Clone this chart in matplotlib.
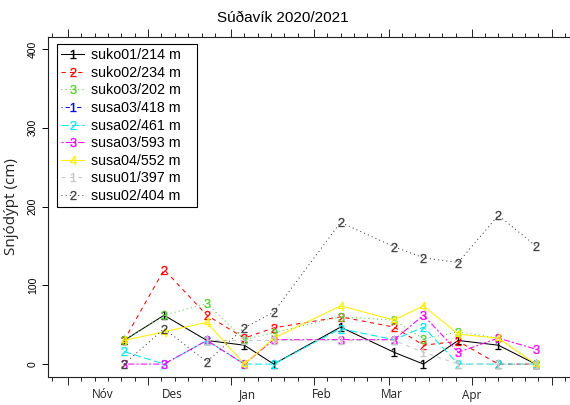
import datetime as dt
import numpy as np
import matplotlib
matplotlib.use("Agg")
import matplotlib.pyplot as plt
import matplotlib.dates as mdates

plt.rcParams['font.family'] = ['Liberation Sans', 'DejaVu Sans']
plt.rcParams['mathtext.fontset'] = 'custom'
plt.rcParams['mathtext.rm'] = 'Liberation Sans'
plt.rcParams['mathtext.default'] = 'regular'

nan = np.nan
dates = [dt.date(2020, 11, 22), dt.date(2020, 12, 7), dt.date(2020, 12, 23),
         dt.date(2021, 1, 6), dt.date(2021, 1, 17), dt.date(2021, 2, 11),
         dt.date(2021, 3, 3), dt.date(2021, 3, 14), dt.date(2021, 3, 27),
         dt.date(2021, 4, 11), dt.date(2021, 4, 25)]

suko01 = [30, 62, 30, 24, 0, 47, 15, 0, 30, 24, 0]
suko02 = [30, 120, 62, 33, 46, 60, 47, 24, 29, 0, 0]
suko03 = [30, 62, 77, 31, 40, 60, 56, 32, 41, 33, 0]
susa03_418 = [nan] * 11
susa02 = [16, 0, 30, 0, 0, 45, 31, 47, 0, 0, 0]
susa03_593 = [0, 0, 30, 0, 31, 31, 31, 62, 15, 33, 19]
susa04 = [30, 41, 53, 0, 33, 74, 56, 74, 38, 33, 0]
susu01 = [nan, nan, 30, 30, 30, 30, 30, 15, 0, 0, 0]
susu02 = [0, 45, 3, 46, 66, 180, 149, 135, 129, 189, 150]

labels = ["suko01/214 m", "suko02/234 m", "suko03/202 m", "susa03/418 m",
          "susa02/461 m", "susa03/593 m", "susa04/552 m", "susu01/397 m",
          "susu02/404 m"]
series = [suko01, suko02, suko03, susa03_418, susa02, susa03_593, susa04,
          susu01, susu02]
pchs = ["1", "2", "3", "1", "2", "3", "4", "1", "2"]
colors = ["#000000", "#ff0000", "#55cc33", "#0000ff", "#00e8f0", "#ff00ff",
          "#ffee00", "#c8c8c8", "#404040"]
ltys = ["-", (0, (4, 4)), (0, (1, 3)), (0, (1, 3, 4, 3)), (0, (7, 3)),
        (0, (2, 2, 6, 2)), "-", (0, (4, 4)), (0, (1, 3))]

month_labels = ["Nóv", "Des", "Jan", "Feb", "Mar", "Apr"]
month_label_pos = [dt.date(2020, 11, 14), dt.date(2020, 12, 10), dt.date(2021, 1, 7),
                   dt.date(2021, 2, 4), dt.date(2021, 3, 2), dt.date(2021, 4, 1)]

W, H = 570, 405
fig = plt.figure(figsize=(W / 100, H / 100), dpi=100)
ax = fig.add_axes([47.5 / W, 1 - 376.7 / H, (580 - 47.5) / W, (376.7 - 36.5) / H])

x = mdates.date2num(dates)
for y, lab, p, c, ls in zip(series, labels, pchs, colors, ltys):
    ax.plot(x, y, color=c, linestyle=ls, lw=0.75, marker="$" + p + "$",
            markersize=6.5, markeredgewidth=0.2, label=lab + "   ")

# ticks: month starts long, every 5 days short
major = []
minor = []
d = dt.date(2020, 10, 1)
while d <= dt.date(2021, 5, 31):
    if d.day == 1:
        major.append(mdates.date2num(d))
    elif d.day in (6, 11, 16, 21, 26):
        minor.append(mdates.date2num(d))
    d += dt.timedelta(days=1)
ax.set_xticks(major)
ax.set_xticks(minor, minor=True)
ax.tick_params(axis="x", which="both", top=True, bottom=True, direction="out",
               labelbottom=False, width=0.7, color="#222222")
ax.tick_params(axis="x", which="major", length=5.5)
ax.tick_params(axis="x", which="minor", length=3.2)

nov1 = mdates.date2num(dt.date(2020, 11, 1))
ax.set_xlim(nov1 - 7.6, nov1 - 7.6 + (580 - 47.5) / 2.674)

ax.set_yticks([0, 100, 200, 300, 400])
ax.set_ylim(-16, 416)
ax.tick_params(axis="y", which="major", length=4.5, width=0.7, pad=2.5,
               labelsize=7.5, right=False)
for t in ax.get_yticklabels():
    t.set_rotation(90)
    t.set_va("center")

for s in ax.spines.values():
    s.set_linewidth(0.8)
    s.set_color("#222222")

for lab, pos in zip(month_labels, month_label_pos):
    ax.text(mdates.date2num(pos), -18.3 / (376.7 - 36.5), lab,
            transform=ax.get_xaxis_transform(), ha="center", va="center",
            fontsize=8.5, family="Open Sans", color="#222222")

fig.text(12 / W, 1 - 206.6 / H, "Snjódýpt (cm)", rotation=90, ha="center",
         va="center", fontsize=11, family="Open Sans", color="#222222")
fig.text(283 / W, 1 - 18 / H, "Súðavík 2020/2021", ha="center", va="center",
         fontsize=11)

leg = ax.legend(loc="upper left", bbox_to_anchor=(57 / W, 1 - 44 / H),
                bbox_transform=fig.transFigure, fontsize=10.3, frameon=True,
                fancybox=False, edgecolor="black", framealpha=1,
                handlelength=1.6, handletextpad=0.45, labelspacing=0.25,
                borderpad=0.3, borderaxespad=0, numpoints=1)
leg.get_frame().set_linewidth(0.8)

fig.savefig("out.png", dpi=100)
